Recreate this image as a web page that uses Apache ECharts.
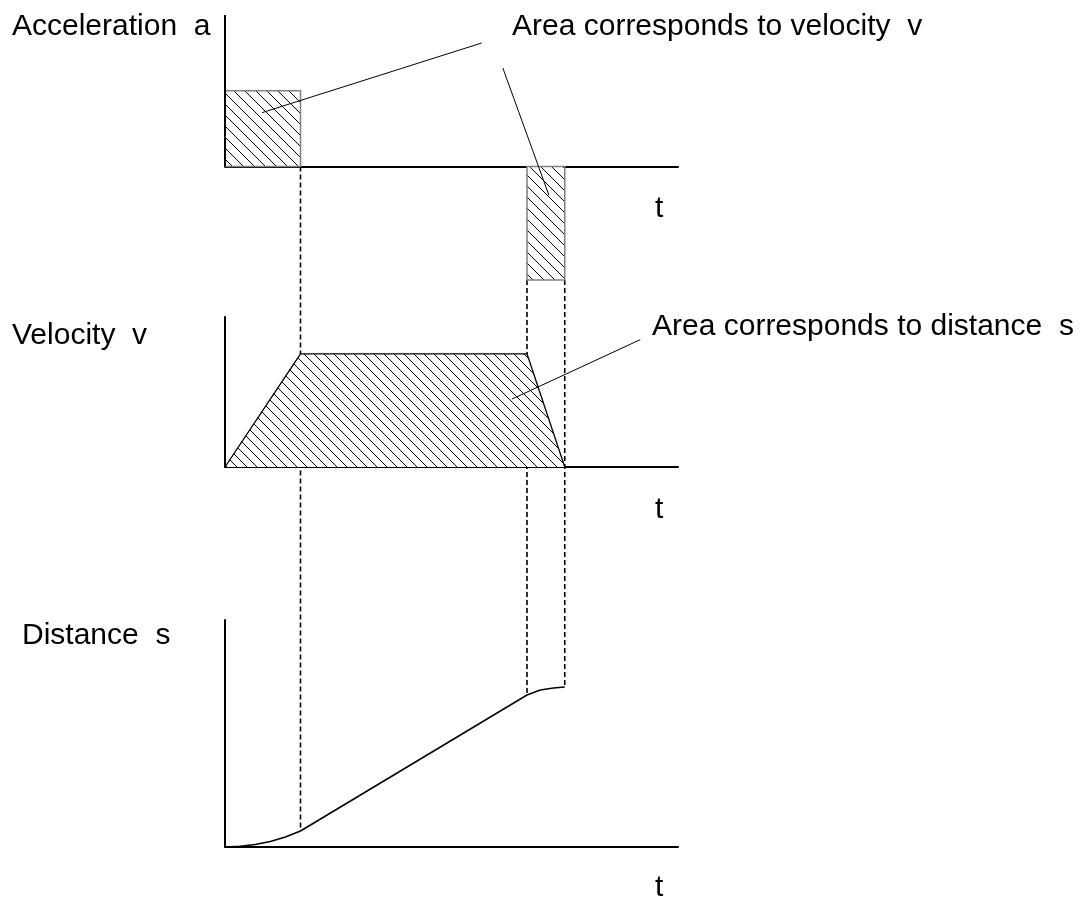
<!DOCTYPE html>
<html>
<head>
<meta charset="utf-8">
<script src="https://cdn.jsdelivr.net/npm/echarts@6/dist/echarts.min.js"></script>
<style>
  html, body { margin: 0; padding: 0; background: #fff; }
  #motion { width: 1080px; height: 909px; }
</style>
</head>
<body>
<div id="motion"></div>
<script>
// values (t in arbitrary time units)
const phaseTimes = [2, 8, 9]
const accelSegments = [[0, 2, 1.0], [8, 9, -1.5]] // [tStart, tEnd, a]
const velocityT = [0, 2, 8, 9]
const velocityV = [0, 2, 2, 0]
const distanceT = [0, 0.4, 0.8, 1.2, 1.6, 2, 8, 8.35, 8.7, 9]
const distanceS = [0, 0.07, 0.25, 0.55, 1.0, 1.6, 15.2, 15.7, 15.9, 16.0]

const FONT = '30px "Liberation Sans", Arial, sans-serif'

// diagonal hatch "\\\" as a repeating canvas pattern
function hatch (step) {
  const c = document.createElement('canvas')
  c.width = step
  c.height = step
  const ctx = c.getContext('2d')
  ctx.fillStyle = '#fff'
  ctx.fillRect(0, 0, step, step)
  ctx.strokeStyle = '#000'
  ctx.lineWidth = 1
  ctx.beginPath()
  for (let k = -1; k <= 1; k++) {
    ctx.moveTo(k * step, 0)
    ctx.lineTo(k * step + step, step)
  }
  ctx.stroke()
  return { image: c, repeat: 'repeat' }
}

const axisLine = { show: true, onZero: true, lineStyle: { color: '#000', width: 2 } }
function xAxis (gridIndex) {
  return {
    type: 'value', gridIndex, min: 0, max: 12,
    axisLine, axisTick: { show: false }, axisLabel: { show: false }, splitLine: { show: false }
  }
}
function yAxis (gridIndex, min, max, showLine) {
  return {
    type: 'value', gridIndex, min, max,
    axisLine: { show: showLine, lineStyle: { color: '#000', width: 2 } },
    axisTick: { show: false }, axisLabel: { show: false }, splitLine: { show: false }
  }
}

const accHatch = hatch(11)
const velHatch = hatch(10)

const option = {
  animation: false,
  backgroundColor: '#fff',
  grid: [
    { left: 225, top: 15, width: 453, height: 265 },
    { left: 225, top: 317, width: 453, height: 150 },
    { left: 225, top: 620, width: 453, height: 227 }
  ],
  xAxis: [xAxis(0), xAxis(1), xAxis(2)],
  yAxis: [yAxis(0, -1.5, 2, false), yAxis(1, 0, 2.65, true), yAxis(2, 0, 22.7, true)],
  series: [
    {
      type: 'custom',
      xAxisIndex: 0,
      yAxisIndex: 0,
      z: 3,
      data: accelSegments,
      encode: { x: [0, 1], y: 2 },
      renderItem (params, api) {
        const p0 = api.coord([api.value(0), api.value(2)])
        const p1 = api.coord([api.value(1), 0])
        return {
          type: 'rect',
          shape: {
            x: Math.min(p0[0], p1[0]),
            y: Math.min(p0[1], p1[1]),
            width: Math.abs(p1[0] - p0[0]),
            height: Math.abs(p1[1] - p0[1])
          },
          style: { fill: accHatch, stroke: '#808080', lineWidth: 1.5 }
        }
      }
    },
    {
      // the acceleration y axis only reaches down to a = 0
      type: 'line',
      xAxisIndex: 0,
      yAxisIndex: 0,
      z: 4,
      symbol: 'none',
      lineStyle: { color: '#000', width: 2 },
      data: [[0, 0], [0, 2]]
    },
    {
      type: 'line',
      xAxisIndex: 1,
      yAxisIndex: 1,
      z: 3,
      symbol: 'none',
      lineStyle: { color: '#000', width: 1.3 },
      areaStyle: { color: velHatch, opacity: 1 },
      data: velocityT.map((t, i) => [t, velocityV[i]])
    },
    {
      type: 'line',
      xAxisIndex: 2,
      yAxisIndex: 2,
      z: 3,
      symbol: 'none',
      lineStyle: { color: '#000', width: 1.5 },
      data: distanceT.map((t, i) => [t, distanceS[i]])
    }
  ]
}

const chart = echarts.init(document.getElementById('motion'))
chart.setOption(option)

function px (grid, point) {
  return chart.convertToPixel({ gridIndex: grid }, point)
}
function seg (a, b, extra) {
  return Object.assign({
    type: 'line',
    shape: { x1: a[0], y1: a[1], x2: b[0], y2: b[1] },
    style: { stroke: '#000', lineWidth: 1 },
    z: 10
  }, extra)
}
function label (text, x, baseline) {
  return {
    type: 'text',
    z: 10,
    style: { text, x, y: baseline - 9, font: FONT, fill: '#000', verticalAlign: 'middle' }
  }
}

// dashed guides from the acceleration panel down to the distance curve
const accAt = t => {
  const s = accelSegments.find(s => t >= s[0] && t <= s[1] && s[2] < 0)
  return s ? s[2] : 0
}
const sAt = t => distanceS[distanceT.indexOf(t)]
const guides = phaseTimes.map(t => seg(px(0, [t, accAt(t)]), px(2, [t, sAt(t)]), {
  z: 1,
  style: { stroke: '#000', lineWidth: 1.6, lineDash: [5, 3] }
}))

const leaders = [
  seg(px(0, [0.98, 0.71]), px(0, [6.8, 1.63])),
  seg(px(0, [7.36, 1.30]), px(0, [8.58, -0.38])),
  seg(px(1, [7.6, 1.2]), px(1, [11.0, 2.25]))
]

const texts = [
  label('Acceleration  a', 12, 36),
  label('Area corresponds to velocity  v', 512, 36),
  label('t', 655, 218),
  label('Velocity  v', 12, 345),
  label('Area corresponds to distance  s', 652, 336),
  label('t', 655, 519),
  label('Distance  s', 22, 645),
  label('t', 655, 897)
]

chart.setOption({ graphic: guides.concat(leaders, texts) })
</script>
</body>
</html>
